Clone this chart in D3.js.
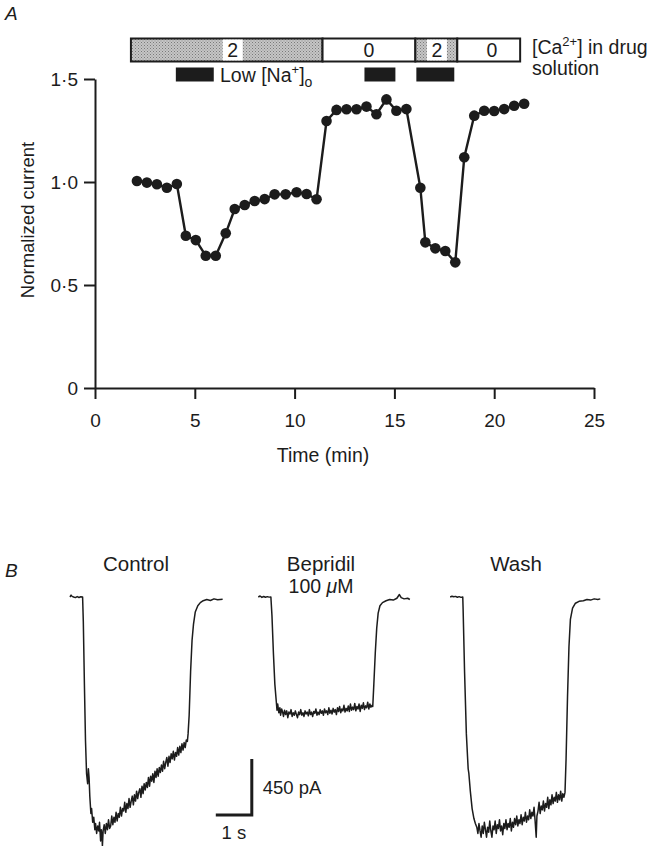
<!DOCTYPE html>
<html>
<head>
<meta charset="utf-8">
<script src="https://cdn.jsdelivr.net/npm/d3@7"></script>
<style>
  body { margin: 0; background: #fff; }
  svg { display: block; font-family: "Liberation Sans", Arial, sans-serif; }
</style>
</head>
<body>
<svg id="chart" width="658" height="846"></svg>
<script>
// ---- panel A data ----
let timeMin = [2.1, 2.6, 3.1, 3.6, 4.1, 4.55, 5.05, 5.55, 6.05, 6.55, 7.0, 7.5, 8.0, 8.5, 9.0,
    9.55, 10.1, 10.6, 11.1, 11.6, 12.1, 12.6, 13.1, 13.6, 14.1, 14.6, 15.1, 15.6,
    16.3, 16.55, 17.05, 17.55, 18.05, 18.5, 19.0, 19.5, 20.0, 20.5, 21.0, 21.5];
let normCurrent = [1.005, 0.997, 0.989, 0.972, 0.99, 0.739, 0.718, 0.642, 0.642, 0.751, 0.869, 0.888, 0.908, 0.917, 0.94,
    0.94, 0.95, 0.942, 0.916, 1.296, 1.35, 1.353, 1.353, 1.366, 1.329, 1.401, 1.346, 1.354,
    0.972, 0.707, 0.678, 0.665, 0.61, 1.12, 1.322, 1.346, 1.345, 1.354, 1.37, 1.38];
let xTicks = [0, 5, 10, 15, 20, 25];
let yTicks = [0, 0.5, 1, 1.5];

// [Ca2+] in drug solution (min)
let caStart = [1.8, 11.4, 16.05, 18.15];
let caEnd = [11.4, 16.05, 18.15, 21.3];
let caLabel = ["2", "0", "2", "0"];
let caLabelAt = [6.9, 13.73, 17.13, 19.88];
// low [Na+]o periods (min)
let naStart = [4.05, 13.5, 16.1];
let naEnd = [5.95, 15.05, 18.0];

// ---- panel B data: [time (s), current (pA)] ----
let controlTrace = [[0, 0], [0.03, 15], [0.06, 5], [0.1, 0], [0.15, -5], [0.2, 3], [0.25, -4], [0.3, 2], [0.35, 0],
    [0.37, -200], [0.40, -700], [0.43, -1150], [0.46, -1420], [0.49, -1500], [0.51, -1380], [0.53, -1450],
    [0.55, -1600], [0.58, -1740], [0.60, -1700], [0.63, -1810], [0.66, -1770], [0.69, -1870], [0.71, -1820],
    [0.74, -1900], [0.77, -1840], [0.80, -1880], [0.82, -1810], [0.85, -1960], [0.87, -1870], [0.89, -1930],
    [0.90, -2000], [0.92, -1880], [0.95, -1830], [0.98, -1900], [1.01, -1820], [1.04, -1870], [1.07, -1790],
    [1.10, -1860], [1.13, -1840], [1.16, -1760], [1.19, -1830], [1.22, -1770], [1.25, -1810], [1.28, -1730],
    [1.31, -1800], [1.34, -1740], [1.37, -1770], [1.40, -1690], [1.43, -1760], [1.46, -1700], [1.49, -1720],
    [1.52, -1650], [1.55, -1730], [1.58, -1660], [1.61, -1700], [1.64, -1620], [1.67, -1690], [1.70, -1640],
    [1.73, -1600], [1.76, -1670], [1.79, -1590], [1.82, -1640], [1.85, -1560], [1.88, -1620], [1.91, -1570],
    [1.94, -1540], [1.97, -1610], [2.00, -1520], [2.03, -1580], [2.06, -1500], [2.09, -1550], [2.12, -1490],
    [2.15, -1530], [2.18, -1450], [2.21, -1520], [2.24, -1440], [2.27, -1480], [2.30, -1420], [2.33, -1490],
    [2.36, -1400], [2.39, -1450], [2.42, -1380], [2.45, -1440], [2.48, -1370], [2.51, -1410], [2.54, -1350],
    [2.57, -1400], [2.60, -1320], [2.63, -1380], [2.66, -1330], [2.69, -1290], [2.72, -1360], [2.75, -1280],
    [2.78, -1330], [2.81, -1260], [2.84, -1300], [2.87, -1240], [2.90, -1310], [2.93, -1250], [2.96, -1280],
    [2.99, -1210], [3.02, -1270], [3.05, -1200], [3.08, -1250], [3.11, -1180], [3.14, -1230], [3.17, -1170],
    [3.20, -1210], [3.23, -1150], [3.26, -1160], [3.28, -1100], [3.31, -950], [3.35, -600], [3.39, -350],
    [3.43, -220], [3.48, -120], [3.55, -70], [3.62, -45], [3.70, -30], [3.80, -20], [3.90, -28], [4.00, -15],
    [4.10, -22], [4.24, -18]];

let bepridilTrace = [[0, 0], [0.05, 8], [0.1, -3], [0.15, 4], [0.2, -2], [0.25, 3], [0.3, -1], [0.35, 0],
    [0.38, -150], [0.42, -450], [0.46, -700], [0.50, -840], [0.52, -910], [0.54, -860], [0.57, -930],
    [0.60, -890], [0.62, -950], [0.65, -900], [0.68, -930], [0.70, -960], [0.73, -910], [0.76, -945],
    [0.79, -915], [0.82, -970], [0.85, -925], [0.88, -940], [0.91, -905], [0.94, -960], [0.97, -930],
    [1.00, -950], [1.03, -915], [1.06, -945], [1.09, -970], [1.12, -925], [1.15, -945], [1.18, -905],
    [1.21, -950], [1.24, -930], [1.27, -960], [1.30, -915], [1.33, -940], [1.36, -925], [1.39, -955],
    [1.42, -905], [1.45, -945], [1.48, -925], [1.51, -960], [1.54, -920], [1.57, -935], [1.60, -900],
    [1.63, -950], [1.66, -925], [1.69, -945], [1.72, -905], [1.75, -935], [1.78, -915], [1.81, -950],
    [1.84, -900], [1.87, -930], [1.90, -915], [1.93, -945], [1.96, -890], [1.99, -935], [2.02, -910],
    [2.05, -940], [2.08, -895], [2.11, -925], [2.14, -905], [2.17, -945], [2.20, -890], [2.23, -920],
    [2.26, -880], [2.29, -930], [2.32, -900], [2.35, -915], [2.38, -870], [2.41, -925], [2.44, -895],
    [2.47, -915], [2.50, -875], [2.53, -920], [2.56, -860], [2.59, -910], [2.62, -885], [2.65, -905],
    [2.68, -855], [2.71, -915], [2.74, -880], [2.77, -900], [2.80, -860], [2.83, -920], [2.86, -870],
    [2.89, -895], [2.92, -850], [2.95, -905], [2.98, -875], [3.01, -890], [3.04, -845], [3.07, -900],
    [3.10, -860], [3.13, -885], [3.16, -870], [3.18, -880], [3.21, -700], [3.25, -450], [3.29, -250],
    [3.33, -130], [3.38, -70], [3.45, -45], [3.55, -30], [3.65, -20], [3.75, -25], [3.85, -10], [3.92, 20],
    [3.97, -5], [4.05, -15], [4.15, -10], [4.21, -20]];

let washTrace = [[0, 0], [0.05, 6], [0.1, 2], [0.15, 5], [0.2, -2], [0.25, 3], [0.3, -3], [0.35, 0],
    [0.36, -100], [0.40, -600], [0.45, -1100], [0.50, -1380], [0.52, -1420], [0.56, -1560], [0.61, -1700],
    [0.66, -1780], [0.70, -1820], [0.74, -1850], [0.77, -1900], [0.80, -1820], [0.83, -1880], [0.86, -1930],
    [0.89, -1840], [0.92, -1900], [0.95, -1810], [0.98, -1870], [1.01, -1930], [1.04, -1850], [1.07, -1890],
    [1.10, -1800], [1.13, -1880], [1.16, -1930], [1.19, -1840], [1.22, -1870], [1.25, -1800], [1.28, -1900],
    [1.31, -1830], [1.34, -1860], [1.37, -1790], [1.40, -1880], [1.43, -1840], [1.46, -1910], [1.49, -1820],
    [1.52, -1860], [1.55, -1790], [1.58, -1870], [1.61, -1820], [1.64, -1850], [1.67, -1780], [1.70, -1880],
    [1.73, -1810], [1.76, -1850], [1.79, -1780], [1.82, -1830], [1.85, -1760], [1.88, -1840], [1.91, -1790],
    [1.94, -1820], [1.97, -1750], [2.00, -1830], [2.03, -1770], [2.06, -1800], [2.09, -1730], [2.12, -1810],
    [2.15, -1760], [2.18, -1790], [2.21, -1710], [2.24, -1780], [2.27, -1730], [2.30, -1760], [2.33, -1690],
    [2.36, -1800], [2.39, -1930], [2.41, -1760], [2.44, -1720], [2.47, -1650], [2.50, -1740], [2.53, -1680],
    [2.56, -1710], [2.59, -1640], [2.62, -1720], [2.65, -1660], [2.68, -1690], [2.71, -1610], [2.74, -1700],
    [2.77, -1630], [2.80, -1670], [2.83, -1590], [2.86, -1660], [2.89, -1610], [2.92, -1640], [2.95, -1570],
    [2.98, -1650], [3.01, -1590], [3.04, -1630], [3.07, -1560], [3.10, -1640], [3.13, -1580], [3.16, -1610],
    [3.19, -1570], [3.22, -1300], [3.26, -800], [3.30, -400], [3.34, -180], [3.40, -90], [3.48, -50],
    [3.58, -35], [3.70, -30], [3.80, -20], [3.90, -25], [4.00, -15], [4.10, -20], [4.17, -15]];

let traceNames = ["Control", "Bepridil", "Wash"];
let traceStart = [0, 5.23, 10.56];   // s, start of each sweep on the shared time axis
let scaleBarTime = 4.05;             // s
let scaleBarCurrent = -1752;         // pA, bottom of the scale bar

const ink = "#1c1c1c";
const svg = d3.select("#chart");

// ================= panel A =================
let x = d3.scaleLinear().domain([0, 25]).range([95, 594]);
let y = d3.scaleLinear().domain([0, 1.5]).range([388, 79]);
let fmt = d => d === 0 ? "0" : d3.format(".1f")(d).replace(".", "\u00b7");

let defs = svg.append("defs");
let pat = defs.append("pattern")
    .attr("id", "stipple")
    .attr("width", 3).attr("height", 3)
    .attr("patternUnits", "userSpaceOnUse");
pat.append("rect").attr("width", 3).attr("height", 3).attr("fill", "#c6c6c6");
pat.append("rect").attr("width", 1).attr("height", 1).attr("fill", "#7a7a7a");
pat.append("rect").attr("x", 1.5).attr("y", 1.5).attr("width", 1).attr("height", 1).attr("fill", "#8c8c8c");

svg.append("text")
    .attr("x", 5).attr("y", 20)
    .attr("font-size", 19).attr("font-style", "italic")
    .attr("fill", ink).text("A");

let gx = svg.append("g")
    .attr("transform", "translate(0," + y(0) + ")")
    .call(d3.axisBottom(x).tickValues(xTicks).tickSize(11).tickSizeOuter(0).tickPadding(15));
let gy = svg.append("g")
    .attr("transform", "translate(" + x(0) + ",0)")
    .call(d3.axisLeft(y).tickValues(yTicks).tickFormat(fmt).tickSize(11).tickSizeOuter(0).tickPadding(6));
[gx, gy].forEach(function (g) {
    g.selectAll("path, line").attr("stroke", ink).attr("stroke-width", 2);
    g.selectAll("text").attr("fill", ink).attr("font-size", 19)
        .attr("font-family", "'Liberation Sans', Arial, sans-serif");
});

svg.append("text")
    .attr("transform", "translate(34,220) rotate(-90)")
    .attr("text-anchor", "middle")
    .attr("font-size", 18.5).attr("fill", ink)
    .text("Normalized current");
svg.append("text")
    .attr("x", 323).attr("y", 462)
    .attr("text-anchor", "middle")
    .attr("font-size", 19.5).attr("fill", ink)
    .text("Time (min)");

// [Ca2+] bar
let barTop = 38.5, barH = 23;
let caG = svg.append("g");
caStart.forEach(function (s, i) {
    caG.append("rect")
        .attr("x", x(s)).attr("y", barTop)
        .attr("width", x(caEnd[i]) - x(s)).attr("height", barH)
        .attr("fill", caLabel[i] === "2" ? "url(#stipple)" : "#fff")
        .attr("stroke", ink).attr("stroke-width", 2);
    if (caLabel[i] === "2") {
        caG.append("rect")
            .attr("x", x(caLabelAt[i]) - 10).attr("y", barTop + 1)
            .attr("width", 20).attr("height", barH - 2)
            .attr("fill", "#fff");
    }
    caG.append("text")
        .attr("x", x(caLabelAt[i])).attr("y", barTop + 18.5)
        .attr("text-anchor", "middle")
        .attr("font-size", 19.5).attr("fill", ink)
        .text(caLabel[i]);
});

let caTxt = svg.append("text").attr("x", 532).attr("y", 54)
    .attr("font-size", 19.5).attr("fill", ink);
caTxt.append("tspan").text("[Ca");
caTxt.append("tspan").attr("font-size", 13).attr("dy", -8).text("2+");
caTxt.append("tspan").attr("dy", 8).text("] in drug");
svg.append("text").attr("x", 532).attr("y", 75)
    .attr("font-size", 19.5).attr("fill", ink).text("solution");

// low Na bars
naStart.forEach(function (s, i) {
    svg.append("rect")
        .attr("x", x(s)).attr("y", 67.5)
        .attr("width", x(naEnd[i]) - x(s)).attr("height", 14)
        .attr("fill", ink);
});
let naTxt = svg.append("text").attr("x", 220).attr("y", 81.5)
    .attr("font-size", 19.5).attr("fill", ink);
naTxt.append("tspan").text("Low [Na");
naTxt.append("tspan").attr("font-size", 13).attr("dy", -8).text("+");
naTxt.append("tspan").attr("dy", 8).text("]");
naTxt.append("tspan").attr("font-size", 14).attr("dy", 5).text("o");

// data line and points
let pts = timeMin.map((t, i) => ({ t: t, v: normCurrent[i] }));
let line = d3.line().x(d => x(d.t)).y(d => y(d.v));
svg.append("path")
    .datum(pts)
    .attr("fill", "none")
    .attr("stroke", ink)
    .attr("stroke-width", 2.4)
    .attr("stroke-linejoin", "round")
    .attr("d", line);
svg.selectAll("circle.pt")
    .data(pts)
    .enter().append("circle")
    .attr("class", "pt")
    .attr("cx", d => x(d.t)).attr("cy", d => y(d.v))
    .attr("r", 5.3)
    .attr("fill", ink);

// ================= panel B =================
let xB = d3.scaleLinear().domain([0, 1]).range([70, 106]);        // 1 s = 36 px
let yB = d3.scaleLinear().domain([0, -450]).range([597, 653]);    // 450 pA = 56 px

svg.append("text")
    .attr("x", 5).attr("y", 577)
    .attr("font-size", 19).attr("font-style", "italic")
    .attr("fill", ink).text("B");

let labelX = [136, 321, 516];
traceNames.forEach(function (n, i) {
    svg.append("text")
        .attr("x", labelX[i]).attr("y", 571)
        .attr("text-anchor", "middle")
        .attr("font-size", 20.5).attr("fill", ink)
        .text(n);
});
let conc = svg.append("text").attr("x", 321).attr("y", 593)
    .attr("text-anchor", "middle")
    .attr("font-size", 19.5).attr("fill", ink);
conc.append("tspan").text("100 ");
conc.append("tspan").attr("font-style", "italic").text("\u03bc");
conc.append("tspan").text("M");

[controlTrace, bepridilTrace, washTrace].forEach(function (tr, i) {
    let tl = d3.line()
        .x(d => xB(traceStart[i] + d[0]))
        .y(d => yB(d[1]));
    svg.append("path")
        .datum(tr)
        .attr("fill", "none")
        .attr("stroke", ink)
        .attr("stroke-width", 1.5)
        .attr("stroke-linejoin", "round")
        .attr("d", tl);
});

// scale bar
let sb = d3.line().x(d => xB(d[0])).y(d => yB(d[1]));
svg.append("path")
    .datum([[scaleBarTime, scaleBarCurrent], [scaleBarTime + 1, scaleBarCurrent], [scaleBarTime + 1, scaleBarCurrent + 450]])
    .attr("fill", "none")
    .attr("stroke", ink)
    .attr("stroke-width", 3)
    .attr("d", sb);
svg.append("text")
    .attr("x", xB(scaleBarTime + 1) + 11).attr("y", yB(scaleBarCurrent + 225) + 7)
    .attr("font-size", 18.5).attr("fill", ink).text("450 pA");
svg.append("text")
    .attr("x", xB(scaleBarTime + 0.5)).attr("y", 839)
    .attr("text-anchor", "middle")
    .attr("font-size", 18.5).attr("fill", ink).text("1 s");
</script>
</body>
</html>
